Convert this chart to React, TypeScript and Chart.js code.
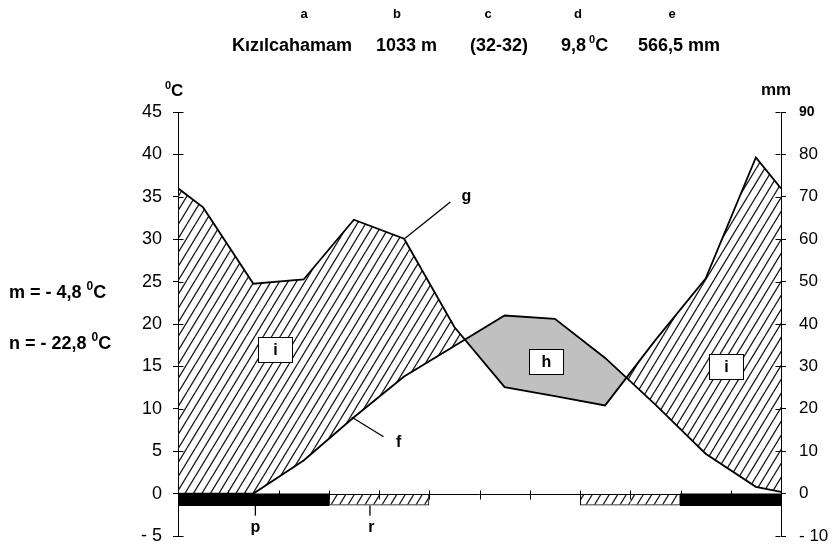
import React, { useEffect, useRef } from 'react';
import { Chart, registerables } from 'chart.js';

Chart.register(...registerables);

// ---------- data ----------
const monthNames = ['Oca', 'Şub', 'Mar', 'Nis', 'May', 'Haz', 'Tem', 'Ağu', 'Eyl', 'Eki', 'Kas', 'Ara'];
const temperatureC = [-0.8, 0.0, 3.9, 9.0, 13.8, 17.4, 21.0, 20.6, 16.0, 10.5, 4.7, 0.8];
const precipitationMm = [67.5, 49.5, 50.5, 64.6, 60.1, 39.3, 25.1, 23.0, 20.8, 36.2, 50.7, 79.3];
const leftEdgeTemperatureC = -0.1;
const rightEdgeTemperatureC = 0.2;
const edgePrecipitationMm = 72;
const frostKind = ['black', 'black', 'black', 'hatch', 'hatch', '', '', '', 'hatch', 'hatch', 'black', 'black'];
const frostBarDepthC = -1.4;
const leftTickValues = [45, 40, 35, 30, 25, 20, 15, 10, 5, 0, -5];
const rightTickValues = [90, 80, 70, 60, 50, 40, 30, 20, 10, 0, -10];
const headerLetters = ['a', 'b', 'c', 'd', 'e'];
const headerTexts = ['Kızılcahamam', '1033 m', '(32-32)', '9,8', '566,5 mm'];
const sideTexts = ['m = - 4,8', 'n = - 22,8'];

// ---------- layout / styling (not data) ----------
const W = 833;
const H = 547;
const FONT = '"Liberation Sans", Arial, sans-serif';
const GRAY = '#c0c0c0';
const headerLetterX = [304, 397, 488, 578, 672];
const headerTextX = [232, 376, 470, 561, 638];

const fmtTick = (v: number) => (v < 0 ? '- ' + Math.abs(v) : String(v));

function makeHatch(): CanvasPattern | string {
  const c = document.createElement('canvas');
  c.width = 17;
  c.height = 28;
  const g = c.getContext('2d');
  if (!g) return '#888';
  g.strokeStyle = '#1a1a1a';
  g.lineWidth = 1.3;
  g.beginPath();
  for (const off of [-17, -8.5, 0, 8.5, 17]) {
    g.moveTo(off, 28);
    g.lineTo(off + 17, 0);
  }
  g.stroke();
  return g.createPattern(c, 'repeat') || '#888';
}

function drawRuns(ctx: CanvasRenderingContext2D, x: number, y: number, runs: { t: string; size: number; dy?: number }[]) {
  let cx = x;
  ctx.textAlign = 'left';
  ctx.textBaseline = 'alphabetic';
  for (const r of runs) {
    ctx.font = `bold ${r.size}px ${FONT}`;
    ctx.fillText(r.t, cx, y + (r.dy || 0));
    cx += ctx.measureText(r.t).width;
  }
}

const decorPlugin = {
  id: 'decor',
  afterDatasetsDraw(chart: any) {
    const { ctx, chartArea, scales } = chart;
    const xs = scales.x;
    const ys = scales.y;
    const ys1 = scales.y1;
    const y0 = Math.round(ys.getPixelForValue(0)) + 0.5;
    ctx.save();
    ctx.strokeStyle = '#000';
    ctx.lineWidth = 1;
    ctx.beginPath();
    // zero line (x axis)
    ctx.moveTo(chartArea.left, y0);
    ctx.lineTo(chartArea.right, y0);
    // month boundary ticks
    for (let i = 1; i < monthNames.length; i++) {
      const px = Math.round(xs.getPixelForValue(i)) + 0.5;
      ctx.moveTo(px, y0 - 4);
      ctx.lineTo(px, y0 + 5);
    }
    // inner halves of y ticks
    const lx = Math.round(chartArea.left) + 0.5;
    for (const v of leftTickValues) {
      const py = Math.round(ys.getPixelForValue(v)) + 0.5;
      ctx.moveTo(lx, py);
      ctx.lineTo(lx + 5, py);
    }
    const rx = Math.round(chartArea.right) - 0.5;
    for (const v of rightTickValues) {
      const py = Math.round(ys1.getPixelForValue(v)) + 0.5;
      ctx.moveTo(rx - 5, py);
      ctx.lineTo(rx, py);
    }
    ctx.stroke();

    // leader lines + labels
    const P = (mx: number, t: number) => [xs.getPixelForValue(mx), ys.getPixelForValue(t)];
    const seg = (a: number[], b: number[]) => {
      ctx.beginPath();
      ctx.moveTo(a[0], a[1]);
      ctx.lineTo(b[0], b[1]);
      ctx.stroke();
    };
    ctx.lineWidth = 1.3;
    seg(P(4.52, 30.1), P(5.42, 34.4));
    seg(P(3.46, 9.0), P(4.09, 6.7));
    seg(P(1.54, frostBarDepthC), P(1.54, -2.6));
    seg(P(3.82, frostBarDepthC), P(3.82, -2.6));

    ctx.fillStyle = '#000';
    ctx.font = `bold 16px ${FONT}`;
    ctx.textAlign = 'left';
    ctx.textBaseline = 'middle';
    let p = P(5.64, 35.0);
    ctx.fillText('g', p[0], p[1]);
    p = P(4.34, 6.0);
    ctx.fillText('f', p[0], p[1]);
    ctx.textAlign = 'center';
    p = P(1.54, -4.0);
    ctx.fillText('p', p[0], p[1]);
    p = P(3.85, -4.0);
    ctx.fillText('r', p[0], p[1]);

    // boxed labels
    const box = (mx: number, t: number, label: string) => {
      const [cx, cy] = P(mx, t);
      const bx = Math.round(cx - 17) + 0.5;
      const by = Math.round(cy - 12) + 0.5;
      ctx.fillStyle = '#fff';
      ctx.fillRect(bx, by, 34, 25);
      ctx.strokeStyle = '#000';
      ctx.lineWidth = 1;
      ctx.strokeRect(bx, by, 34, 25);
      ctx.fillStyle = '#000';
      ctx.font = `bold 16px ${FONT}`;
      ctx.textAlign = 'center';
      ctx.textBaseline = 'middle';
      ctx.fillText(label, bx + 17, by + 13);
    };
    box(1.94, 17.1, 'i');
    box(7.32, 15.6, 'h');
    box(10.9, 15.0, 'i');
    ctx.restore();
  },
  afterDraw(chart: any) {
    const { ctx, chartArea } = chart;
    ctx.save();
    ctx.fillStyle = '#000';
    // header letters
    ctx.font = `bold 13px ${FONT}`;
    ctx.textAlign = 'center';
    ctx.textBaseline = 'middle';
    headerLetters.forEach((l, i) => ctx.fillText(l, headerLetterX[i], 14));
    // header values
    drawRuns(ctx, headerTextX[0], 51, [{ t: headerTexts[0], size: 18 }]);
    drawRuns(ctx, headerTextX[1], 51, [{ t: headerTexts[1], size: 18 }]);
    drawRuns(ctx, headerTextX[2], 51, [{ t: headerTexts[2], size: 18 }]);
    drawRuns(ctx, headerTextX[3], 51, [
      { t: headerTexts[3], size: 18 },
      { t: ' 0', size: 11, dy: -8 },
      { t: 'C', size: 18 },
    ]);
    drawRuns(ctx, headerTextX[4], 51, [{ t: headerTexts[4], size: 18 }]);
    // axis units
    drawRuns(ctx, chartArea.left - 13, 96, [
      { t: '0', size: 11, dy: -7 },
      { t: 'C', size: 17 },
    ]);
    drawRuns(ctx, chartArea.right - 20, 95, [{ t: 'mm', size: 17 }]);
    // side texts
    drawRuns(ctx, 9, 298, [
      { t: sideTexts[0] + ' ', size: 18 },
      { t: '0', size: 12, dy: -8 },
      { t: 'C', size: 18 },
    ]);
    drawRuns(ctx, 9, 349, [
      { t: sideTexts[1] + ' ', size: 18 },
      { t: '0', size: 12, dy: -8 },
      { t: 'C', size: 18 },
    ]);
    ctx.restore();
  },
};

export default function App() {
  const ref = useRef<HTMLCanvasElement | null>(null);

  useEffect(() => {
    const canvas = ref.current;
    if (!canvas) return;
    const hatch = makeHatch();

    const tempPoints = [
      { x: 0, y: Math.max(0, leftEdgeTemperatureC) },
      ...temperatureC.map((t, i) => ({ x: i + 0.5, y: Math.max(0, t) })),
      { x: monthNames.length, y: Math.max(0, rightEdgeTemperatureC) },
    ];
    const precPoints = [
      { x: 0, y: edgePrecipitationMm },
      ...precipitationMm.map((p, i) => ({ x: i + 0.5, y: p })),
      { x: monthNames.length, y: edgePrecipitationMm },
    ];
    const frostIdx = frostKind.map((k, i) => (k ? i : -1)).filter((i) => i >= 0);
    const frostPoints = frostIdx.map((i) => ({ x: i + 0.5, y: [frostBarDepthC, 0] }));
    const kindAt = (c: any) => frostKind[frostIdx[c.dataIndex]];

    const fixWidth = (w: number) => (s: any) => {
      s.width = w;
      s.paddingTop = 0;
      s.paddingBottom = 0;
    };

    const chart = new Chart(canvas, {
      type: 'line',
      data: {
        datasets: [
          {
            type: 'line',
            label: 'Sıcaklık',
            data: tempPoints as any,
            xAxisID: 'x',
            yAxisID: 'y',
            borderColor: '#000',
            borderWidth: 1.8,
            pointRadius: 0,
            tension: 0,
            fill: false,
          },
          {
            type: 'line',
            label: 'Yağış',
            data: precPoints as any,
            xAxisID: 'x',
            yAxisID: 'y1',
            borderColor: '#000',
            borderWidth: 1.8,
            pointRadius: 0,
            tension: 0,
            fill: { target: 0, above: hatch as any, below: GRAY },
          },
          {
            type: 'bar',
            label: 'Don',
            data: frostPoints as any,
            xAxisID: 'x',
            yAxisID: 'y',
            backgroundColor: (c: any) => (kindAt(c) === 'black' ? '#000' : hatch),
            borderColor: '#000',
            borderSkipped: false,
            inflateAmount: (c: any) => (kindAt(c) === 'black' ? 0.5 : 0),
            borderWidth: (c: any) => {
              const m = frostIdx[c.dataIndex];
              const k = frostKind[m];
              if (k === 'black') return 0;
              return {
                top: 1,
                bottom: 1,
                left: frostKind[m - 1] === k ? 0 : 1,
                right: frostKind[m + 1] === k ? 0 : 1,
              };
            },
            barPercentage: 1,
            categoryPercentage: 1,
          } as any,
        ],
      },
      options: {
        responsive: false,
        devicePixelRatio: 1,
        animation: false,
        events: [],
        layout: { padding: { top: 112, bottom: 11, left: 0, right: 0 } },
        plugins: { legend: { display: false }, tooltip: { enabled: false }, title: { display: false } },
        scales: {
          x: {
            type: 'linear',
            display: false,
            offset: false,
            min: 0,
            max: monthNames.length,
            ticks: { stepSize: 1, display: false },
            grid: { display: false, offset: false },
          },
          y: {
            type: 'linear',
            position: 'left',
            min: leftTickValues[leftTickValues.length - 1],
            max: leftTickValues[0],
            afterFit: fixWidth(178),
            ticks: {
              stepSize: leftTickValues[0] - leftTickValues[1],
              color: '#000',
              padding: 11,
              font: { family: FONT, size: 18 },
              callback: (v: any) => fmtTick(Number(v)),
            },
            grid: { display: true, drawOnChartArea: false, drawTicks: true, tickLength: 5, color: '#000', lineWidth: 1 },
            border: { display: true, color: '#000', width: 1 },
          },
          y1: {
            type: 'linear',
            position: 'right',
            min: rightTickValues[rightTickValues.length - 1],
            max: rightTickValues[0],
            afterFit: fixWidth(52),
            ticks: {
              stepSize: rightTickValues[0] - rightTickValues[1],
              color: '#000',
              padding: 13,
              font: (c: any) =>
                c.tick && c.tick.value === rightTickValues[0]
                  ? { family: FONT, size: 14, weight: 'bold' }
                  : { family: FONT, size: 17 },
              callback: (v: any) => fmtTick(Number(v)),
            },
            grid: { display: true, drawOnChartArea: false, drawTicks: true, tickLength: 5, color: '#000', lineWidth: 1 },
            border: { display: true, color: '#000', width: 1 },
          },
        },
      } as any,
      plugins: [decorPlugin],
    });
    return () => chart.destroy();
  }, []);

  return (
    <div style={{ position: 'fixed', left: 0, top: 0, width: W, height: H, background: '#fff' }}>
      <canvas ref={ref} width={W} height={H} style={{ display: 'block', width: W, height: H }} />
    </div>
  );
}
